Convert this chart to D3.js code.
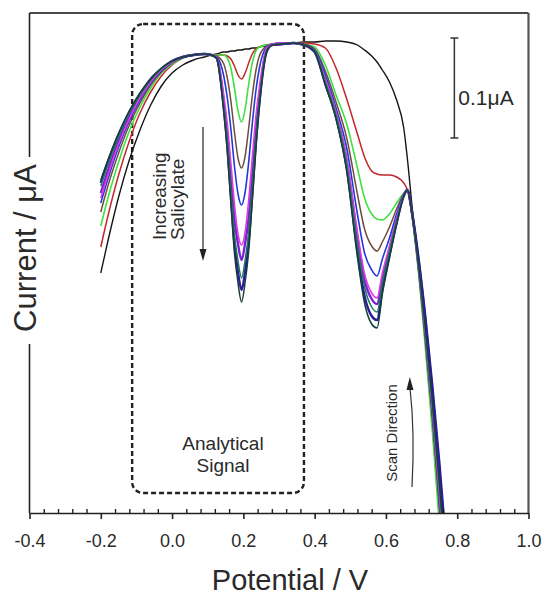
<!DOCTYPE html>
<html>
<head>
<meta charset="utf-8">
<script src="https://cdn.jsdelivr.net/npm/d3@7"></script>
<style>
  body { margin: 0; background: #fff; }
  svg { display: block; }
  text { font-family: "Liberation Sans", Arial, sans-serif; fill: #2a2a2a; }
</style>
</head>
<body>
<svg id="chart" width="545" height="598"></svg>
<script>
// Potential sampling points (V) shared by every voltammogram
const potential = [-0.2,-0.18,-0.15,-0.12,-0.09,-0.06,-0.03,0,0.03,0.06,0.09,0.11,0.125,0.145,0.155,0.165,0.175,0.185,0.195,0.205,0.215,0.225,0.235,0.245,0.265,0.28,0.31,0.34,0.37,0.40,0.43,0.46,0.49,0.52,0.54,0.56,0.575,0.59,0.61,0.63,0.65,0.66,0.675,0.69,0.71,0.73,0.75,0.77];

// Current (nA, relative offset) for each salicylate addition
const blank   = [240,272,316,353,383,408,427,440,448,453,456,458,459,461,461,462,462,463,463,464,464,465,465,466,467,468,469,470,471,471,472,472,471,468,463,457,451,443,431,413,385,355,301,257,187,111,27,-63];
const add1    = [266,297,338,372,400,421,437,448,455,458,459,458,458,458,457,454,447,438,434,440,450,459,464,466,468,468,469,470,470,469,465,445,414,379,356,342,339,338,338,336,330,323,293,247,172,89,-4,-92];
const add2    = [287,315,351,382,406,425,440,449,455,458,459,458,458,458,455,445,425,402,391,404,429,450,462,466,468,469,470,470,469,466,448,418,389,345,315,299,294,293,299,310,320,323,292,245,168,83,-12,-97];
const add3    = [301,327,360,388,410,428,441,450,456,458,459,458,457,449,435,412,381,355,345,357,385,417,442,457,467,469,470,470,469,464,442,411,375,319,284,267,262,271,286,304,319,323,293,248,175,95,5,-85];
const add4    = [310,334,366,392,413,430,442,451,456,458,459,458,456,437,415,384,347,319,308,321,351,389,422,445,466,469,470,470,468,463,438,405,365,299,260,243,237,254,275,299,318,323,294,250,179,101,13,-77];
const add5    = [315,338,369,394,415,431,443,451,456,458,459,458,456,418,389,350,309,279,268,281,313,355,396,426,465,469,470,470,468,462,434,401,355,281,239,220,215,240,267,295,318,323,294,251,182,105,18,-72];
const add6    = [320,342,372,396,416,432,443,451,456,458,459,458,455,411,378,335,294,269,253,270,296,338,381,417,462,468,469,470,468,462,432,399,352,276,233,214,209,235,264,294,318,323,296,257,195,123,43,-45];
const add7    = [330,351,378,401,419,434,444,452,456,458,459,458,455,405,367,317,270,241,223,242,272,319,369,410,461,468,469,470,468,461,429,396,345,262,217,197,193,224,258,290,317,323,297,259,198,128,50,-37];
const add8    = [327,348,376,400,418,433,444,452,456,458,459,458,455,407,371,324,279,252,235,253,281,326,374,413,462,468,469,470,468,462,431,398,349,269,226,206,201,230,262,292,317,323,295,253,185,110,25,-65];
const add9    = [333,353,380,402,420,434,445,452,456,458,459,458,455,402,362,310,260,230,211,231,262,312,364,407,461,468,469,470,468,461,428,394,342,256,210,189,185,219,255,289,317,323,295,254,188,114,31,-59];

// Axis ticks
const majorTicks = [-0.4,-0.2,0.0,0.2,0.4,0.6,0.8,1.0];
const tickLabels = ["-0.4","-0.2","0.0","0.2","0.4","0.6","0.8","1.0"];

// Series drawing order and styling
const series = [
  { values: blank, color: "#141414", width: 1.4 },
  { values: add1,  color: "#c4262b", width: 1.5 },
  { values: add2,  color: "#3fe03f", width: 1.6 },
  { values: add3,  color: "#6f4c3e", width: 1.5 },
  { values: add6,  color: "#7a20d8", width: 2.4 },
  { values: add7,  color: "#2b1c9c", width: 2.4 },
  { values: add4,  color: "#2338d8", width: 1.6 },
  { values: add5,  color: "#e03ae3", width: 1.6 },
  { values: add8,  color: "#1f7a55", width: 1.5 },
  { values: add9,  color: "#173d3d", width: 1.5 }
];

const svg = d3.select("#chart");
const plotL = 29.5, plotR = 528.5, plotT = 13, plotB = 513;

const x = d3.scaleLinear().domain([-0.4, 1.0]).range([plotL, plotR]);
const y = d3.scaleLinear().domain([0, 500]).range([plotB, plotT]);

svg.append("defs").append("clipPath").attr("id", "plot-clip")
  .append("rect").attr("x", plotL).attr("y", plotT)
  .attr("width", plotR - plotL).attr("height", plotB - plotT);

// Annotation: analytical signal window
svg.append("rect")
  .attr("x", x(-0.112)).attr("y", y(489))
  .attr("width", x(0.370) - x(-0.112)).attr("height", y(20) - y(489))
  .attr("rx", 11).attr("ry", 11)
  .attr("fill", "none").attr("stroke", "#222").attr("stroke-width", 2.4)
  .attr("stroke-dasharray", "5,3");

// Voltammograms
const line = d3.line()
  .x((d, i) => x(potential[i]))
  .y(d => y(d))
  .curve(d3.curveMonotoneX);

svg.append("g").attr("clip-path", "url(#plot-clip)")
  .selectAll("path").data(series).join("path")
  .attr("d", s => line(s.values))
  .attr("fill", "none")
  .attr("stroke", s => s.color)
  .attr("stroke-width", s => s.width)
  .attr("stroke-linejoin", "round");

// Frame: top and right borders
svg.append("line").attr("x1", plotL).attr("x2", plotR).attr("y1", plotT).attr("y2", plotT)
  .attr("stroke", "#4a4a4a").attr("stroke-width", 2);
svg.append("line").attr("x1", plotR).attr("x2", plotR).attr("y1", plotT).attr("y2", plotB)
  .attr("stroke", "#555").attr("stroke-width", 2.2);

// Left axis line, interrupted by its title
svg.append("line").attr("x1", plotL).attr("x2", plotL).attr("y1", plotT).attr("y2", 157)
  .attr("stroke", "#222").attr("stroke-width", 1.6);
svg.append("line").attr("x1", plotL).attr("x2", plotL).attr("y1", 344).attr("y2", plotB)
  .attr("stroke", "#222").attr("stroke-width", 1.6);

// Bottom axis: minor ticks point inward, major ticks outward
const minorTicks = d3.range(0, 36).filter(i => i % 5 !== 0).map(i => -0.4 + i * 0.04);
const gMinor = svg.append("g").attr("transform", `translate(0,${plotB})`)
  .call(d3.axisBottom(x).tickValues(minorTicks).tickSize(-4).tickSizeOuter(0).tickFormat(""));
gMinor.select(".domain").remove();
gMinor.selectAll("line").attr("stroke", "#222").attr("stroke-width", 1.4);

const gMajor = svg.append("g").attr("transform", `translate(0,${plotB})`)
  .call(d3.axisBottom(x).tickValues(majorTicks).tickSize(6).tickSizeOuter(0).tickPadding(15)
    .tickFormat((d, i) => tickLabels[i]));
gMajor.select(".domain").attr("stroke", "#222").attr("stroke-width", 1.6);
gMajor.selectAll("line").attr("stroke", "#222").attr("stroke-width", 1.6);
gMajor.selectAll("text").attr("font-size", 18)
  .style("font-family", "'Liberation Sans', Arial, sans-serif").attr("fill", "#222");

// Axis titles
svg.append("text").attr("x", 290).attr("y", 590).attr("text-anchor", "middle")
  .attr("font-size", 29).text("Potential / V");
svg.append("text").attr("transform", "translate(36,248) rotate(-90)")
  .attr("text-anchor", "middle").attr("font-size", 31).text("Current / μA");

// Scale bar: 0.1 μA
const barX = x(0.792);
const bar = svg.append("g").attr("stroke", "#333").attr("stroke-width", 1.5);
bar.append("line").attr("x1", barX).attr("x2", barX).attr("y1", y(475)).attr("y2", y(375));
bar.append("line").attr("x1", barX - 4).attr("x2", barX + 4).attr("y1", y(475)).attr("y2", y(475));
bar.append("line").attr("x1", barX - 4).attr("x2", barX + 4).attr("y1", y(375)).attr("y2", y(375));
svg.append("text").attr("x", barX + 4).attr("y", 105).attr("font-size", 21).text("0.1μA");

// "Increasing Salicylate" label and arrow
const inc = svg.append("text").attr("transform", "translate(0,240) rotate(-90)")
  .attr("font-size", 19);
inc.append("tspan").attr("x", 0).attr("y", 166).text("Increasing");
inc.append("tspan").attr("x", 0).attr("y", 184).text("Salicylate");
svg.append("line").attr("x1", 203).attr("x2", 203).attr("y1", 127).attr("y2", 250)
  .attr("stroke", "#333").attr("stroke-width", 1.3);
svg.append("path").attr("d", "M199.5,249 L206.5,249 L203,261 Z").attr("fill", "#222");

// "Analytical Signal" label
svg.append("text").attr("x", 223).attr("y", 450).attr("text-anchor", "middle")
  .attr("font-size", 19).text("Analytical");
svg.append("text").attr("x", 223).attr("y", 472).attr("text-anchor", "middle")
  .attr("font-size", 19).text("Signal");

// Scan direction label and arrow
svg.append("text").attr("transform", "translate(397,433) rotate(-90)")
  .attr("text-anchor", "middle").attr("font-size", 15).text("Scan Direction");
svg.append("path").attr("d", "M412,487 Q415,432 410,388")
  .attr("fill", "none").attr("stroke", "#333").attr("stroke-width", 1.2);
svg.append("path").attr("d", "M406.5,390 L413.5,390 L409.8,377 Z").attr("fill", "#222");
</script>
</body>
</html>
